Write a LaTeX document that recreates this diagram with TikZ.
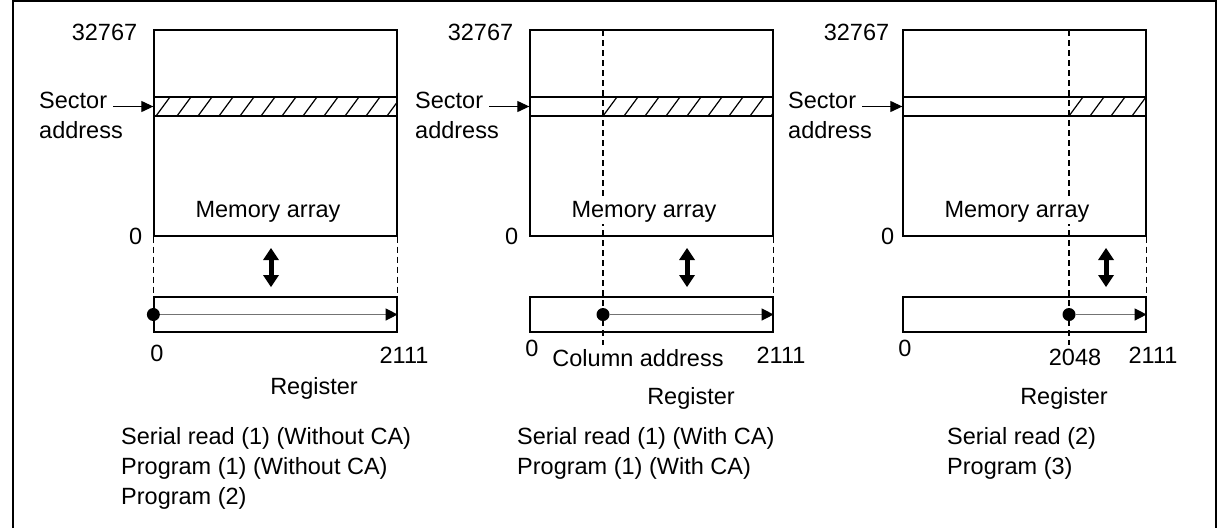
\documentclass[tikz,border=0pt]{standalone}
\usepackage{fontspec}
\setmainfont{Liberation Sans}
\usetikzlibrary{arrows.meta}
\usetikzlibrary{positioning}

\begin{document}
\begin{tikzpicture}[x=1pt, y=-1pt]
\tikzset{
lbl/.style={inner sep=0pt, font=\fontsize{23.5}{30}\selectfont},
membox/.style={draw, line width=1.3pt, inner sep=0pt, minimum width=243pt},
band/.style={draw, line width=1.3pt, inner sep=0pt, minimum width=243pt, minimum height=19pt},
hatch/.style={line width=1.2pt},
guide/.style={line width=1.1pt, dash pattern=on 6pt off 4pt},
ptr/.style={line width=1.1pt, -{Triangle[length=12pt,width=11pt]}},
scan/.style={draw=black!55, line width=1.3pt, -{Triangle[length=12pt,width=12pt,color=black]}},
xfer/.style={line width=5pt, {Triangle[length=12pt,width=16pt,line width=0pt]}-{Triangle[length=12pt,width=16pt,line width=0pt]}},
dot/.style={circle, fill, inner sep=0pt, minimum size=13pt}
}
\useasboundingbox (0,0) rectangle (1221,528);
\draw[line width=1.5pt] (13,528) -- (13,1) -- (1216,1) -- (1216,528);

% without column address
\node[membox, minimum height=206pt] (mem1) at (275.5,133) {};
\begin{scope}
\clip (154,97) rectangle (397,116);
\foreach \x in {135,156,...,400} \draw[hatch] (\x,116) -- ++(14,-19);
\end{scope}
\node[band] (sect1) at (275.5,106.5) {};
\node[lbl, fill=white, inner sep=1pt] (marr1) at (268,212) {Memory array};
\node[lbl, left=16pt of mem1.north west, yshift=-3pt] (top1) {32767};
\node[lbl, left=11pt of mem1.south west] (bot1) {0};
\node[lbl, anchor=west] (sec1) at (39,100) {Sector};
\node[lbl, anchor=west] (adr1) at (39,130) {address};
\draw[ptr] ([xshift=6pt]sec1.east |- sect1.west) -- (sect1.west);
\node[membox, minimum height=35pt] (reg1) at (275.5,314.5) {};
\draw[guide] (mem1.south west) -- (reg1.north west);
\draw[guide] (mem1.south east) -- (reg1.north east);
\coordinate (xa1) at (271,248);
\coordinate (xb1) at (271,287);
\draw[xfer] (xa1) -- (xb1);
\node[dot] (start1) at (reg1.west) {};
\draw[scan] (start1) -- (reg1.east);
\node[lbl] (lo1) at (157,353) {0};
\node[lbl] (hi1) at (404,355) {2111};
\node[lbl] (rname1) at (314,388) {Register};
\node[lbl, anchor=north west, align=left] (use1) at (121,427)
  {Serial read (1) (Without CA)\\Program (1) (Without CA)\\Program (2)};

% with column address
\node[membox, minimum height=206pt] (mem2) at (651.5,133) {};
\begin{scope}
\clip (603,97) rectangle (773,116);
\foreach \x in {603,624,...,780} \draw[hatch] (\x,116) -- ++(14,-19);
\end{scope}
\node[band] (sect2) at (651.5,106.5) {};
\node[lbl, left=16pt of mem2.north west, yshift=-3pt] (top2) {32767};
\node[lbl, left=11pt of mem2.south west] (bot2) {0};
\node[lbl, anchor=west] (sec2) at (415,100) {Sector};
\node[lbl, anchor=west] (adr2) at (415,130) {address};
\draw[ptr] ([xshift=6pt]sec2.east |- sect2.west) -- (sect2.west);
\node[membox, minimum height=35pt] (reg2) at (651.5,314.5) {};
\coordinate (col2) at (603,30);
\coordinate (colend2) at (603,345);
\draw[guide] (col2) -- (colend2);
\draw[guide] (mem2.south east) -- (reg2.north east);
\node[lbl, fill=white, inner sep=1pt] (marr2) at (644,212) {Memory array};
\coordinate (xa2) at (687,248);
\coordinate (xb2) at (687,287);
\draw[xfer] (xa2) -- (xb2);
\node[dot] (start2) at (col2 |- reg2.west) {};
\draw[scan] (start2) -- (reg2.east);
\node[lbl] (lo2) at (532,348) {0};
\node[lbl] (ca2) at (638,358) {Column address};
\node[lbl] (hi2) at (781,355) {2111};
\node[lbl] (rname2) at (691,398) {Register};
\node[lbl, anchor=north west, align=left] (use2) at (517,427)
  {Serial read (1) (With CA)\\Program (1) (With CA)};

% last 64 columns
\node[membox, minimum height=206pt] (mem3) at (1024.5,133) {};
\begin{scope}
\clip (1069,97) rectangle (1146,116);
\foreach \x in {1069,1090,...,1150} \draw[hatch] (\x,116) -- ++(14,-19);
\end{scope}
\node[band] (sect3) at (1024.5,106.5) {};
\node[lbl, left=13pt of mem3.north west, yshift=-3pt] (top3) {32767};
\node[lbl, left=8pt of mem3.south west] (bot3) {0};
\node[lbl, anchor=west] (sec3) at (788,100) {Sector};
\node[lbl, anchor=west] (adr3) at (788,130) {address};
\draw[ptr] ([xshift=6pt]sec3.east |- sect3.west) -- (sect3.west);
\node[membox, minimum height=35pt] (reg3) at (1024.5,314.5) {};
\coordinate (col3) at (1069,30);
\coordinate (colend3) at (1069,345);
\draw[guide] (col3) -- (colend3);
\draw[guide] (mem3.south east) -- (reg3.north east);
\node[lbl, fill=white, inner sep=1pt] (marr3) at (1017,212) {Memory array};
\coordinate (xa3) at (1106,248);
\coordinate (xb3) at (1106,287);
\draw[xfer] (xa3) -- (xb3);
\node[dot] (start3) at (col3 |- reg3.west) {};
\draw[scan] (start3) -- (reg3.east);
\node[lbl] (lo3) at (905,348) {0};
\node[lbl] (mid3) at (1075,357) {2048};
\node[lbl] (hi3) at (1153,355) {2111};
\node[lbl] (rname3) at (1064,398) {Register};
\node[lbl, anchor=north west, align=left] (use3) at (947,427)
  {Serial read (2)\\Program (3)};
\end{tikzpicture}
\end{document}
